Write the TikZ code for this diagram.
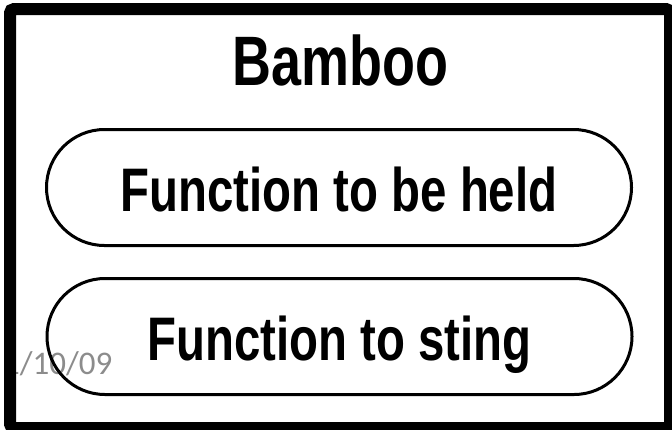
\documentclass[tikz,border=0pt]{standalone}
\usepackage{fontspec}
\setmainfont{Liberation Sans}
\newfontfamily\datefont{Carlito}
\usetikzlibrary{shapes.misc}
\definecolor{dategray}{gray}{0.55}
\tikzset{
  frame/.style={line width=12pt, rounded corners=4pt},
  pill/.style={rounded rectangle, draw, line width=3pt, inner sep=0pt,
    minimum width=585pt, minimum height=116pt,
    text height=48pt, text depth=0pt,
    font=\fontsize{61.5pt}{62pt}\selectfont\bfseries},
  heading/.style={inner sep=0pt, anchor=base,
    font=\fontsize{70pt}{70pt}\selectfont\bfseries},
  datestamp/.style={inner sep=0pt, anchor=base west, text=dategray,
    font=\fontsize{33pt}{33pt}\datefont},
}
\newcommand{\narrow}[1]{\scalebox{0.77}[1]{#1}}
\begin{document}
\begin{tikzpicture}[x=1pt, y=-1pt]
  \useasboundingbox (0,0) rectangle (672,429);
  % date stamp sits underneath the rest
  \node[datestamp] (date) at (3,374) {1/10/09};
  % title
  \node[heading] (title) at (340.5,85) {\narrow{Bamboo}};
  % the two function boxes
  \node[pill] (held) at (339,187.5) {\narrow{Function to be held}};
  \node[pill] (sting) at (339.5,336.5) {\narrow{Function to sting}};
  % thick outer frame, partly running off the page
  \draw[frame] (10,9) rectangle (670,428);
\end{tikzpicture}
\end{document}
